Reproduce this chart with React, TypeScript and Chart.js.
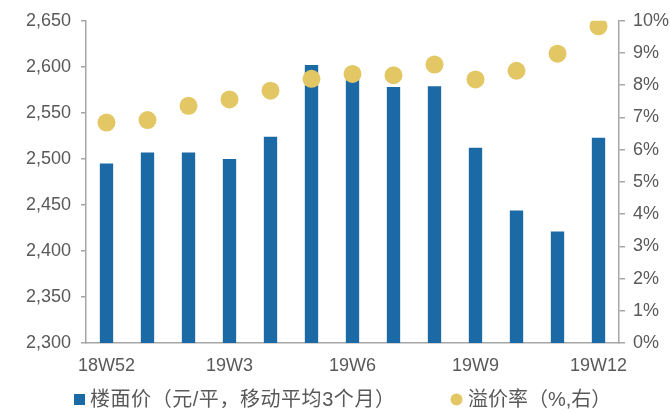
import React, { useEffect, useRef } from "react";
import { Chart, registerables } from "chart.js";

Chart.register(...registerables);

const categories = ["18W52", "19W1", "19W2", "19W3", "19W4", "19W5", "19W6", "19W7", "19W8", "19W9", "19W10", "19W11", "19W12"];
const floorPrice = [2495, 2507, 2507, 2500, 2524, 2602, 2590, 2578, 2579, 2512, 2444, 2421, 2523];
const premiumRate = [6.84, 6.92, 7.36, 7.56, 7.83, 8.2, 8.35, 8.31, 8.64, 8.18, 8.45, 8.98, 9.83];
const barLabel = "楼面价（元/平，移动平均3个月）";
const dotLabel = "溢价率（%,右）";

const BAR_COLOR = "#1B6AA5";
const DOT_COLOR = "#E3C764";
const TEXT = "#595959";
const AXIS = "#A6A6A6";
const FONT = "'Liberation Sans', Arial, 'Noto Sans CJK SC', sans-serif";
const LEGEND_FONT = "'Liberation Sans', Arial, 'Noto Sans CJK SC', sans-serif";

function drawSpaced(ctx: any, text: string, x: number, y: number, target: number) {
  ctx.letterSpacing = "0px";
  const w = ctx.measureText(text).width;
  const n = Array.from(text).length;
  const sp = Math.max(0, Math.min(3, (target - w) / Math.max(1, n - 1)));
  ctx.letterSpacing = `${sp.toFixed(2)}px`;
  ctx.fillText(text, x, y);
  ctx.letterSpacing = "0px";
}

const legendPlugin = {
  id: "customLegend",
  afterDraw(chart: any) {
    const ctx = chart.ctx as CanvasRenderingContext2D;
    const cy = 399.5;
    ctx.save();
    ctx.font = `20px ${LEGEND_FONT}`;
    ctx.textBaseline = "middle";
    ctx.textAlign = "left";
    // bar item
    ctx.fillStyle = BAR_COLOR;
    ctx.fillRect(74, cy - 5.5, 11, 11);
    ctx.fillStyle = TEXT;
    drawSpaced(ctx, barLabel, 90, cy + 1, 305);
    // dot item
    ctx.fillStyle = DOT_COLOR;
    ctx.beginPath();
    ctx.arc(456.5, cy, 6, 0, Math.PI * 2);
    ctx.fill();
    ctx.fillStyle = TEXT;
    drawSpaced(ctx, dotLabel, 468, cy + 1, 143);
    ctx.restore();
  },
};

export default function App() {
  const ref = useRef<HTMLCanvasElement>(null);
  useEffect(() => {
    document.body.style.margin = "0";
    const chart = new Chart(ref.current!, {
      type: "bar",
      data: {
        labels: categories,
        datasets: [
          {
            type: "line",
            label: dotLabel,
            data: premiumRate,
            yAxisID: "y1",
            showLine: false,
            pointRadius: 9,
            pointBackgroundColor: DOT_COLOR,
            pointBorderColor: DOT_COLOR,
            pointBorderWidth: 0,
            backgroundColor: DOT_COLOR,
            borderColor: DOT_COLOR,
            order: 0,
          } as any,
          {
            type: "bar",
            label: barLabel,
            data: floorPrice,
            yAxisID: "y",
            backgroundColor: BAR_COLOR,
            borderWidth: 0,
            barPercentage: 0.325,
            categoryPercentage: 1,
            order: 1,
          },
        ],
      },
      plugins: [legendPlugin],
      options: {
        animation: false,
        responsive: false,
        maintainAspectRatio: false,
        layout: { padding: { top: 20, left: 0, right: 0, bottom: 0 } },
        plugins: {
          tooltip: { enabled: false },
          legend: { display: false },
        },
        scales: {
          x: {
            grid: { display: false, drawTicks: false },
            border: { display: true, color: AXIS, width: 1.5 },
            afterFit: (s: any) => {
              s.height = 69;
            },
            ticks: {
              autoSkip: false,
              maxRotation: 0,
              color: TEXT,
              font: { family: FONT, size: 18 },
              padding: 12,
              callback: (_v: any, i: number) => (i % 3 === 0 ? categories[i] : ""),
            },
          },
          y: {
            position: "left",
            min: 2300,
            max: 2650,
            afterFit: (s: any) => {
              s.width = 86;
            },
            grid: { drawOnChartArea: false, drawTicks: true, tickLength: 5, color: AXIS, lineWidth: 1.5 },
            border: { display: true, color: AXIS, width: 1.5 },
            ticks: {
              stepSize: 50,
              color: TEXT,
              font: { family: FONT, size: 18 },
              padding: 10,
              callback: (v: any) => Number(v).toLocaleString("en-US"),
            },
          },
          y1: {
            position: "right",
            min: 0,
            max: 10,
            afterFit: (s: any) => {
              s.width = 51;
            },
            grid: { drawOnChartArea: false, drawTicks: true, tickLength: 6, color: AXIS, lineWidth: 1.5 },
            border: { display: true, color: AXIS, width: 1.5 },
            ticks: {
              stepSize: 1,
              color: TEXT,
              font: { family: FONT, size: 18 },
              padding: 8,
              callback: (v: any) => v + "%",
            },
          },
        },
      },
    });
    return () => chart.destroy();
  }, []);
  return (
    <div style={{ width: 670, height: 412 }}>
      <canvas ref={ref} width={670} height={412} style={{ width: 670, height: 412 }} />
    </div>
  );
}
